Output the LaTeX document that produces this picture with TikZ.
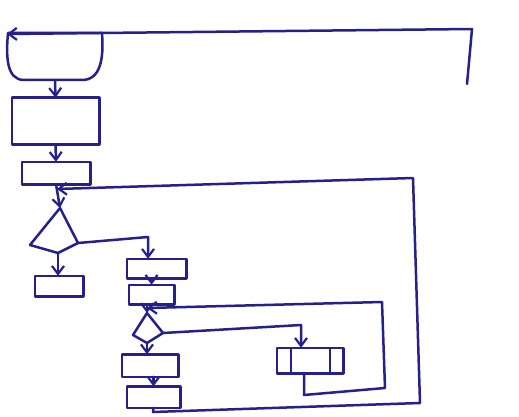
\documentclass[tikz,border=0pt]{standalone}
\usetikzlibrary{arrows.meta}
\definecolor{ink}{RGB}{38,32,140}
\begin{document}
\begin{tikzpicture}[x=1pt,y=-1pt,
  every path/.style={draw=ink,line width=2.5pt,line join=round,line cap=round},
  box/.style={draw=none,rectangle,inner sep=0pt,anchor=center},
  flow/.style={-{Straight Barb[length=8pt,width=12pt,line width=2.2pt]}}]
\useasboundingbox[draw=none] (0,0) rectangle (519,417);
% terminal
\node[draw=none,minimum width=94pt,minimum height=47pt,inner sep=0pt] (start) at (55,56.5) {};
\draw (8,33) -- (102,33) .. controls (104,60) and (100,80) .. (82,80)
  -- (24,80) .. controls (6,80) and (6,55) .. (8,33) -- cycle;
% boxes
\node[box,minimum width=85pt,minimum height=44pt] (b2) at (55.5,121) {};
\node[box,minimum width=66pt,minimum height=20pt] (b3) at (56,173) {};
\node[box,minimum width=46pt,minimum height=18pt] (b4) at (59,286) {};
\node[box,minimum width=57pt,minimum height=17pt] (b5) at (156.5,268.5) {};
\node[box,minimum width=43pt,minimum height=17pt] (b6) at (151.5,294.5) {};
\node[box,minimum width=54pt,minimum height=20pt] (b7) at (150,365.5) {};
\node[box,minimum width=51pt,minimum height=19pt] (b8) at (153.5,397) {};
\node[box,minimum width=64pt,minimum height=23pt] (pp) at (310,360.5) {};
\foreach \n in {b2,b3,b4,b5,b6,b7,b8,pp}
  \draw (\n.south west) rectangle (\n.north east);
\draw (291,349) -- (291,372);
\draw (330,349) -- (330,372);
% diamonds
\coordinate (d1t) at (60,208);
\coordinate (d1r) at (78,243);
\coordinate (d1b) at (58,253);
\coordinate (d1l) at (30,245);
\draw (d1t) -- (d1r) -- (d1b) -- (d1l) -- cycle;
\coordinate (d2t) at (147,313);
\coordinate (d2r) at (163,333);
\coordinate (d2b) at (147,343);
\coordinate (d2l) at (133,335);
\draw (d2t) -- (d2r) -- (d2b) -- (d2l) -- cycle;
% helper coordinates
\coordinate (topend) at (467,84);
\coordinate (topcorner) at (472,29);
\coordinate (topleft) at (7,34);
\coordinate (j1) at (57,189);
\coordinate (j2) at (147,308);
\coordinate (r1) at (148,237);
\coordinate (r2) at (301,325);
\coordinate (o1) at (153,412);
\coordinate (o2) at (420,403);
\coordinate (o3) at (413,178);
\coordinate (i1) at (304,395);
\coordinate (i2) at (385,388);
\coordinate (i3) at (382,302);
% connectors
\draw[flow] (topend) -- (topcorner) -- (topleft);
\draw[flow] (start.south) -- (b2.north);
\draw[flow] (b2.south) -- (b3.north);
\draw[flow] (b3.south) -- (d1t);
\draw[flow] (b8.south) -- (o1) -- (o2) -- (o3) -- (j1);
\draw[flow] (d1b) -- (d1b |- b4.north);
\draw[flow] (d1r) -- (r1) -- (r1 |- b5.north);
\draw[flow] (b5.south -| b6.north) -- (b6.north);
\draw[flow] (b6.south -| d2t) -- (d2t);
\draw[flow] (pp.south -| i1) -- (i1) -- (i2) -- (i3) -- (j2);
\draw[flow] (d2r) -- (r2) -- (pp.north -| r2);
\draw[flow] (d2b) -- (d2b |- b7.north);
\draw[flow] (b7.south -| b8.north) -- (b8.north);
\end{tikzpicture}
\end{document}
